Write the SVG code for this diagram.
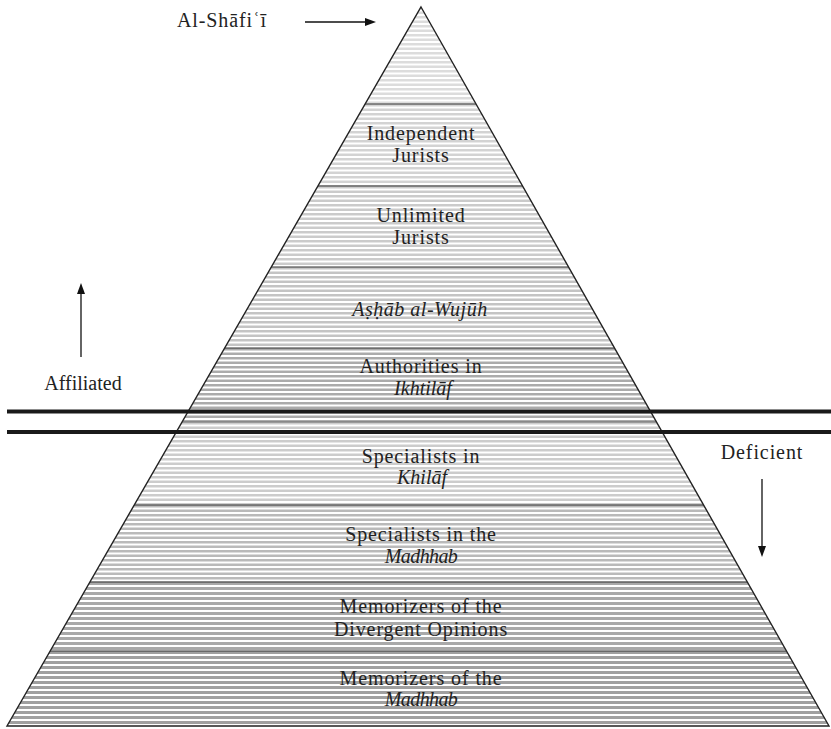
<svg xmlns="http://www.w3.org/2000/svg" width="831" height="729" viewBox="0 0 831 729" font-family="Liberation Serif, serif">
  <style>
    text { font-family: "Liberation Serif", "Tinos", serif !important; font-size: 20px; fill: #222; text-anchor: middle; letter-spacing: 0.9px; }
    .i { font-style: italic; letter-spacing: 0; }
    .band { stroke-width: 831; stroke-dasharray: 2.6 1.9; fill: none; }
    .bandb { stroke-width: 831; stroke-dasharray: 3 2; fill: none; }
    .sec { stroke: #333; stroke-width: 1.2; fill: none; }
    .bar { stroke: #1a1a1a; stroke-width: 4; }
    .arr { stroke: #111; stroke-width: 1.3; fill: none; }
    .head { fill: #111; stroke: none; }
    .mask { fill: #fff; stroke: none; }
  </style>

  <g id="pyramid-fill">
    <line class="band" x1="415.5" y1="7" x2="415.5" y2="104" stroke="#dcdcdc"/>
    <line class="band" x1="415.5" y1="104" x2="415.5" y2="186" stroke="#d3d3d3"/>
    <line class="band" x1="415.5" y1="186" x2="415.5" y2="267" stroke="#cbcbcb"/>
    <line class="band" x1="415.5" y1="267" x2="415.5" y2="348" stroke="#c4c4c4"/>
    <line class="band" x1="415.5" y1="348" x2="415.5" y2="422" stroke="#ababab"/>
    <line class="band" x1="415.5" y1="422" x2="415.5" y2="505" stroke="#cccccc"/>
    <line class="band" x1="415.5" y1="505" x2="415.5" y2="582" stroke="#bababa"/>
    <line class="bandb" x1="415.5" y1="582" x2="415.5" y2="651" stroke="#a9a9a9"/>
    <line class="bandb" x1="415.5" y1="651" x2="415.5" y2="726" stroke="#a0a0a0"/>
    <g class="sec">
      <line x1="0" y1="104" x2="831" y2="104"/>
      <line x1="0" y1="186" x2="831" y2="186"/>
      <line x1="0" y1="267" x2="831" y2="267"/>
      <line x1="0" y1="348" x2="831" y2="348"/>
      <line x1="0" y1="422" x2="831" y2="422" stroke="#666"/>
      <line x1="0" y1="505" x2="831" y2="505"/>
      <line x1="0" y1="582" x2="831" y2="582"/>
      <line x1="0" y1="651" x2="831" y2="651"/>
    </g>
    <polygon class="mask" points="0,0 421,0 421,7 7,726 0,726"/>
    <polygon class="mask" points="421,0 831,0 831,726 829,726 421,7"/>
  </g>
  <polygon id="pyramid-outline" points="421,7 829,726 7,726" fill="none" stroke="#222" stroke-width="1.4"/>

  <g id="divider">
    <line class="bar" x1="7" y1="411.5" x2="831" y2="411.5"/>
    <line class="bar" x1="7" y1="432" x2="831" y2="432"/>
  </g>

  <g id="connectors">
    <line class="arr" x1="305" y1="22" x2="366" y2="22"/>
    <polygon class="head" points="365,18 376,22 365,26"/>
    <line class="arr" x1="81" y1="357" x2="81" y2="293"/>
    <polygon class="head" points="77,294 81,283 85,294"/>
    <line class="arr" x1="762" y1="479" x2="762" y2="547"/>
    <polygon class="head" points="758,546 762,557 766,546"/>
  </g>

  <g id="labels">
    <g id="label-shafii"><text font-family="Liberation Serif" x="222" y="27">Al-Shāfiʿī</text></g>
    <g id="label-affiliated"><text font-family="Liberation Serif" x="83" y="390" style="letter-spacing:0">Affiliated</text></g>
    <g id="label-deficient"><text font-family="Liberation Serif" x="762" y="459">Deficient</text></g>

    <g id="level-independent">
      <text font-family="Liberation Serif" x="421" y="140">Independent</text>
      <text font-family="Liberation Serif" x="421" y="162">Jurists</text>
    </g>
    <g id="level-unlimited">
      <text font-family="Liberation Serif" x="421" y="222">Unlimited</text>
      <text font-family="Liberation Serif" x="421" y="244">Jurists</text>
    </g>
    <g id="level-ashab">
      <text font-family="Liberation Serif" class="i" x="420" y="316" style="letter-spacing:0.5px">Aṣḥāb al-Wujūh</text>
    </g>
    <g id="level-authorities">
      <text font-family="Liberation Serif" x="421" y="373">Authorities in</text>
      <text font-family="Liberation Serif" class="i" x="423" y="395">Ikhtilāf</text>
    </g>
    <g id="level-khilaf">
      <text font-family="Liberation Serif" x="421" y="463">Specialists in</text>
      <text font-family="Liberation Serif" class="i" x="422" y="484">Khilāf</text>
    </g>
    <g id="level-madhhab-specialists">
      <text font-family="Liberation Serif" x="421" y="541">Specialists in the</text>
      <text font-family="Liberation Serif" class="i" x="421" y="563" style="letter-spacing:-0.6px">Madhhab</text>
    </g>
    <g id="level-divergent">
      <text font-family="Liberation Serif" x="421" y="613">Memorizers of the</text>
      <text font-family="Liberation Serif" x="421" y="636">Divergent Opinions</text>
    </g>
    <g id="level-memorizers">
      <text font-family="Liberation Serif" x="421" y="685">Memorizers of the</text>
      <text font-family="Liberation Serif" class="i" x="421" y="706" style="letter-spacing:-0.6px">Madhhab</text>
    </g>
  </g>
</svg>
